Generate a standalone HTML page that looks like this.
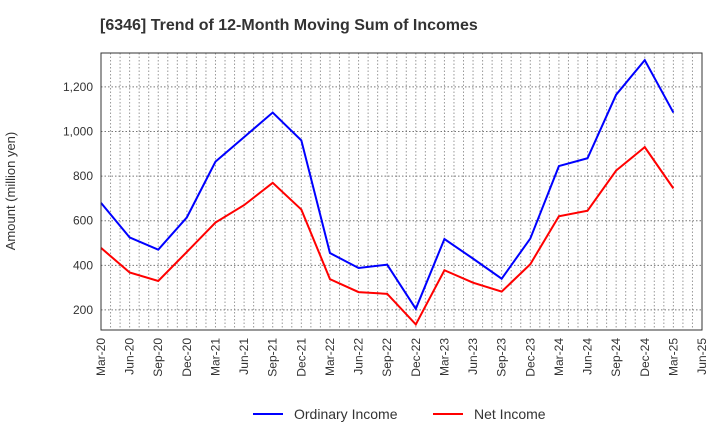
<!DOCTYPE html>
<html><head><meta charset="utf-8"><style>
body{margin:0;background:#fff;font-family:"Liberation Sans",sans-serif}
</style></head><body>
<svg width="720" height="440" xmlns="http://www.w3.org/2000/svg" font-family="Liberation Sans, sans-serif">
<text x="100" y="30" font-size="16" font-weight="bold" fill="#333">[6346]  Trend of 12-Month Moving Sum of Incomes</text>
<text transform="translate(15,191) rotate(-90)" text-anchor="middle" font-size="13" fill="#333">Amount (million yen)</text>
<g id="grid"></g><g id="axes"></g><g id="series"></g>
<rect x="101" y="53" width="601" height="277" fill="none" stroke="#333" stroke-width="1"/>
<g>
<line x1="253" y1="414" x2="283" y2="414" stroke="#0000ff" stroke-width="2"/>
<text x="294" y="419" font-size="14" fill="#333">Ordinary Income</text>
<line x1="433" y1="414" x2="463" y2="414" stroke="#ff0000" stroke-width="2"/>
<text x="474" y="419" font-size="14" fill="#333">Net Income</text>
</g>
</svg>
<script>
const categories=["Mar-20","Jun-20","Sep-20","Dec-20","Mar-21","Jun-21","Sep-21","Dec-21","Mar-22","Jun-22","Sep-22","Dec-22","Mar-23","Jun-23","Sep-23","Dec-23","Mar-24","Jun-24","Sep-24","Dec-24","Mar-25","Jun-25"];
const ordinaryIncome=[680,525,470,615,865,975,1085,960,455,388,403,205,518,430,340,520,845,880,1165,1320,1085];
const netIncome=[478,368,330,460,592,670,770,650,338,280,272,135,378,322,282,405,620,645,825,930,745];
const yTicks=[200,400,600,800,1000,1200];
const NS="http://www.w3.org/2000/svg";
const X0=101,X1=702,Y0=53,Y1=330,YMIN=110,YMAX=1352;
const xs=i=>X0+(X1-X0)*i/(categories.length-1);
const ys=v=>Y1-(v-YMIN)/(YMAX-YMIN)*(Y1-Y0);
function mk(t,a,p){const e=document.createElementNS(NS,t);for(const k in a)e.setAttribute(k,a[k]);p.appendChild(e);return e;}
const grid=document.getElementById('grid'),axes=document.getElementById('axes'),ser=document.getElementById('series');
for(let m=1;m<(categories.length-1)*3;m++){const x=X0+(X1-X0)*m/((categories.length-1)*3);
const l=mk('line',{x1:x,x2:x,y1:Y0,y2:Y1,stroke:'#999','stroke-dasharray':'1.5,2','stroke-width':1},grid);

}
yTicks.forEach(v=>{const y=ys(v);
const l=mk('line',{x1:X0,x2:X1,y1:y,y2:y,stroke:'#777','stroke-dasharray':'1.5,2','stroke-width':1},grid);


const t=mk('text',{x:X0-8,y:y+4,'text-anchor':'end','font-size':12,fill:'#333'},axes);t.textContent=v.toLocaleString('en-US');

});
categories.forEach((c,i)=>{const x=xs(i);
const t=mk('text',{transform:`translate(${x+4},${Y1+8}) rotate(-90)`,'text-anchor':'end','font-size':12,fill:'#333'},axes);t.textContent=c;

});
function line(d,col,name){const p=mk('polyline',{points:d.map((v,i)=>xs(i)+','+ys(v)).join(' '),fill:'none',stroke:col,'stroke-width':2},ser);

}
line(ordinaryIncome,'#0000ff','ordinary-income-line');
line(netIncome,'#ff0000','net-income-line');
</script>
</body></html>
